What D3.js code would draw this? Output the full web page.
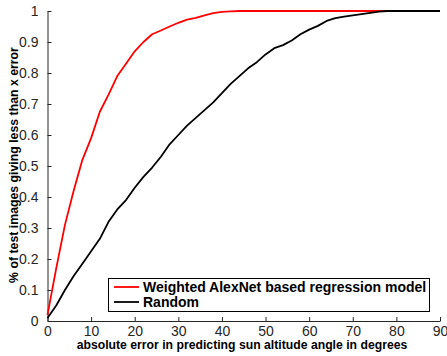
<!DOCTYPE html>
<html><head><meta charset="utf-8">
<script src="https://cdn.jsdelivr.net/npm/d3@7"></script>
<style>
html,body{margin:0;padding:0;background:#fff;}
svg{display:block;font-family:"Liberation Sans",Arial,Helvetica,sans-serif;}
</style></head>
<body>
<svg id="chart" width="447" height="356"></svg>
<script>
const errorDeg = [0,2,4,6,8,10,12,14,16,18,20,22,24,26,28,30,32,34,36,38,40,42,44,46,48,50,52,54,56,58,60,62,64,66,68,70,72,74,76,78,80,82,84,86,88,90];
const alexnet = [0.02,0.17,0.31,0.42,0.52,0.59,0.675,0.73,0.79,0.83,0.87,0.90,0.925,0.937,0.95,0.962,0.972,0.978,0.986,0.993,0.997,0.999,1,1,1,1,1,1,1,1,1,1,1,1,1,1,1,1,1,1,1,1,1,1,1,1];
const random = [0.01,0.05,0.10,0.145,0.185,0.225,0.265,0.32,0.36,0.39,0.43,0.465,0.495,0.53,0.57,0.60,0.63,0.655,0.68,0.705,0.735,0.765,0.79,0.815,0.835,0.86,0.88,0.89,0.905,0.925,0.94,0.952,0.968,0.977,0.982,0.986,0.99,0.994,0.998,1,1,1,1,1,1,1];
const xTicks = [0,10,20,30,40,50,60,70,80,90];
const yTicks = [0,0.1,0.2,0.3,0.4,0.5,0.6,0.7,0.8,0.9,1];
const seriesNames = ["Weighted AlexNet based regression model","Random"];
const seriesColors = ["#ff0000","#000000"];
const xLabel = "absolute error in predicting sun altitude angle in degrees";
const yLabel = "% of test images giving less than x error";

(function(){
const svg = d3.select("#chart");
const mL = 47.5, mR = 440, mT = 11, mB = 321;
const x = d3.scaleLinear().domain([0,90]).range([mL,mR]);
const y = d3.scaleLinear().domain([0,1]).range([mB,mT]);
const axisColor = "#262626";

const xAxis = svg.append("g").attr("transform",`translate(0,${mB})`)
  .call(d3.axisBottom(x).tickValues(xTicks).tickSizeInner(-4).tickSizeOuter(0).tickPadding(5.5).tickFormat(d3.format("d")));
const yAxis = svg.append("g").attr("transform",`translate(${mL},0)`)
  .call(d3.axisLeft(y).tickValues(yTicks).tickSizeInner(-4).tickSizeOuter(0).tickPadding(9).tickFormat(d => d===0||d===1 ? String(d) : d3.format(".1f")(d)));
[xAxis,yAxis].forEach(g=>{
  g.select(".domain").attr("stroke",axisColor).attr("stroke-width",1);
  g.selectAll(".tick line").attr("stroke",axisColor);
  g.selectAll(".tick text").attr("fill",axisColor).style("font-size","14px").style("font-family","'Liberation Sans',Arial,sans-serif");
});

const line = d3.line().x((d,i)=>x(errorDeg[i])).y(d=>y(d));
[alexnet, random].forEach((s,k)=>{
  svg.append("path").datum(s).attr("d",line).attr("fill","none")
    .attr("stroke",seriesColors[k]).attr("stroke-width",1.8).attr("stroke-linejoin","round");
});

function fitText(sel, target){
  const len = sel.node().getComputedTextLength();
  const fs = parseFloat(sel.style("font-size"));
  if (len > 0) sel.style("font-size", (fs*target/len).toFixed(2)+"px");
}
const xl = svg.append("text").attr("x",242).attr("y",349).attr("text-anchor","middle")
  .style("font-size","12px").style("font-weight","bold").attr("fill","#000").text(xLabel);
fitText(xl, 331);
const yl = svg.append("text").attr("transform",`translate(18,165) rotate(-90)`).attr("text-anchor","middle")
  .style("font-size","12px").style("font-weight","bold").attr("fill","#000").text(yLabel);
fitText(yl, 236);

const lg = svg.append("g");
lg.append("rect").attr("x",108.5).attr("y",278.5).attr("width",321).attr("height",33)
  .attr("fill","#fff").attr("stroke","#000").attr("stroke-width",1);
seriesNames.forEach((n,i)=>{
  const yy = 287 + i*15;
  lg.append("line").attr("x1",114).attr("x2",139).attr("y1",yy).attr("y2",yy)
    .attr("stroke",seriesColors[i]).attr("stroke-width",1.8);
  lg.append("text").attr("x",143).attr("y",yy+5).style("font-size","14px").style("font-weight","bold")
    .attr("fill","#000").text(n);
});
})();
</script>
</body></html>
